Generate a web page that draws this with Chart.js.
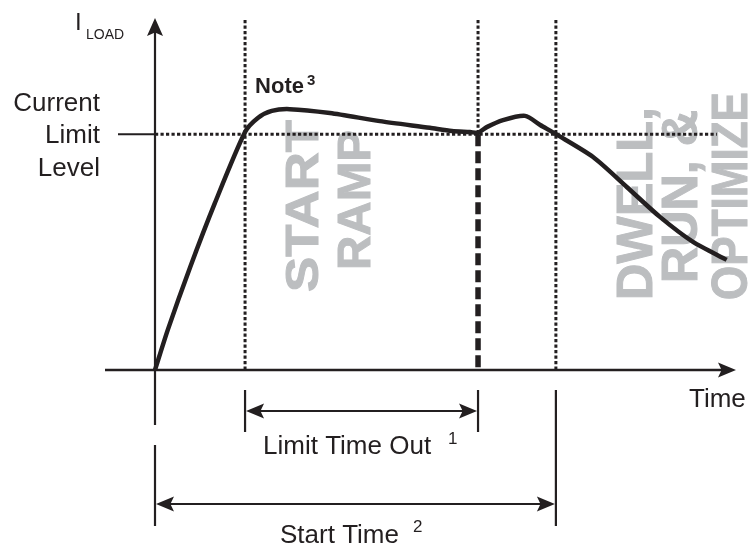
<!DOCTYPE html>
<html>
<head>
<meta charset="utf-8">
<script src="https://cdn.jsdelivr.net/npm/chart.js@4.4.1/dist/chart.umd.min.js"></script>
<style>
html,body{margin:0;padding:0;background:#fff;}
canvas{display:block;}
</style>
</head>
<body>
<canvas id="c" width="749" height="547"></canvas>
<script>
// Load current curve (time units, current units)
const curveTime    = [0, 2.2, 6.0, 10.3, 15.5, 17.7, 20.1, 23.2, 30.1, 38.7, 47.3, 51.1, 54.2, 55.6, 57.1, 59.9, 63.7, 66.3, 69.0, 75.4, 81.2, 86.9, 92.6, 98.4];
const curveCurrent = [0, 11.4, 29.0, 47.4, 67.6, 71.6, 73.6, 74.1, 73.0, 70.7, 68.8, 67.9, 67.6, 67.4, 69.0, 71.0, 72.2, 69.6, 67.0, 60.5, 52.0, 43.5, 36.4, 31.3];
// Event markers on the time axis
const eventNames = ["Start", "Current Limit Reached", "Limit Time Out", "Start Time"];
const eventTimes = [0, 15.5, 55.6, 69.0];
const currentLimitLevel = [67];
const axisLabels = ["Time", "I", "LOAD"];
const levelLabel = ["Current", "Limit", "Level"];
const phaseLabels1 = ["START", "RAMP"];
const phaseLabels2 = ["DWELL,", "RUN, &", "OPTIMIZE"];

const INK = "#231f20";
const GRAY = "#bcbec0";
const FONT = "'Liberation Sans', Arial, Helvetica, sans-serif";

const points = curveTime.map((t, i) => ({x: t, y: curveCurrent[i]}));

function seg(ctx, x1, y1, x2, y2, w, dash, cap) {
  ctx.save();
  ctx.beginPath();
  ctx.lineWidth = w;
  ctx.strokeStyle = INK;
  ctx.lineCap = cap || "butt";
  ctx.setLineDash(dash || []);
  ctx.moveTo(x1, y1);
  ctx.lineTo(x2, y2);
  ctx.stroke();
  ctx.restore();
}
function head(ctx, tx, ty, dir, len, half) {
  ctx.save();
  ctx.fillStyle = INK;
  ctx.beginPath();
  ctx.moveTo(tx, ty);
  if (dir === "up") { ctx.lineTo(tx - half, ty + len); ctx.lineTo(tx, ty + len * 0.8); ctx.lineTo(tx + half, ty + len); }
  if (dir === "right") { ctx.lineTo(tx - len, ty - half); ctx.lineTo(tx - len * 0.8, ty); ctx.lineTo(tx - len, ty + half); }
  if (dir === "left") { ctx.lineTo(tx + len, ty - half); ctx.lineTo(tx + len * 0.8, ty); ctx.lineTo(tx + len, ty + half); }
  ctx.closePath();
  ctx.fill();
  ctx.restore();
}
function txt(ctx, s, x, y, size, weight, align, color) {
  ctx.save();
  ctx.font = (weight || "normal") + " " + size + "px " + FONT;
  ctx.fillStyle = color || INK;
  ctx.textAlign = align || "left";
  ctx.textBaseline = "alphabetic";
  ctx.fillText(s, x, y);
  ctx.restore();
}
// rotated (reading upward) text, baseline at x, from yStart (bottom) up to yEnd
function vtxt(ctx, s, baseX, yStart, yEnd, size) {
  ctx.save();
  ctx.font = "bold " + size + "px " + FONT;
  const w = ctx.measureText(s).width;
  const sx = (yStart - yEnd) / w;
  ctx.translate(baseX, yStart);
  ctx.rotate(-Math.PI / 2);
  ctx.scale(sx, 1);
  ctx.fillStyle = GRAY;
  ctx.strokeStyle = GRAY;
  ctx.lineWidth = 1;
  ctx.lineJoin = "miter";
  ctx.textBaseline = "alphabetic";
  ctx.fillText(s, 0, 0);
  ctx.strokeText(s, 0, 0);
  ctx.restore();
}

const diagram = {
  id: "diagram",
  beforeDatasetsDraw(chart) {
    const ctx = chart.ctx;
    const xs = chart.scales.x, ys = chart.scales.y;
    const X = v => xs.getPixelForValue(v), Y = v => ys.getPixelForValue(v);
    const y0 = Y(0);
    const lim = Y(currentLimitLevel[0]);
    // gray phase labels
    vtxt(ctx, phaseLabels1[0], X(eventTimes[1]) + 73, y0 - 78, y0 - 250, 46);
    vtxt(ctx, phaseLabels1[1], X(eventTimes[1]) + 125, y0 - 100, y0 - 240, 46);
    vtxt(ctx, phaseLabels2[0], X(eventTimes[3]) + 96, y0 - 70, y0 - 263, 50);
    vtxt(ctx, phaseLabels2[1], X(eventTimes[3]) + 141, y0 - 87, y0 - 260, 50);
    vtxt(ctx, phaseLabels2[2], X(eventTimes[3]) + 191, y0 - 70, y0 - 278, 50);

    // dotted current-limit level
    const dot = [3.2, 2.3];
    seg(ctx, X(0), lim, X(96.7), lim, 3, dot);
    seg(ctx, X(0) - 37, lim, X(0), lim, 2);
    // dotted event verticals
    seg(ctx, X(eventTimes[1]), Y(99.4), X(eventTimes[1]), y0, 3, dot);
    seg(ctx, X(eventTimes[3]), Y(99.4), X(eventTimes[3]), y0, 3, dot);
    seg(ctx, X(eventTimes[2]), Y(99.4), X(eventTimes[2]), lim, 3, dot);
    seg(ctx, X(eventTimes[2]), lim, X(eventTimes[2]), y0, 5.5, [12, 5]);

    // axes
    seg(ctx, X(0), Y(100) + 14, X(0), y0 + 55, 2.2);
    seg(ctx, X(0), y0 + 75, X(0), y0 + 156, 2.2);
    head(ctx, X(0), Y(100), "up", 18, 8);
    seg(ctx, X(0) - 50, y0, X(100) - 14, y0, 2.5);
    head(ctx, X(100), y0, "right", 18, 7.5);

    // dimension ticks
    seg(ctx, X(eventTimes[1]), y0 + 20, X(eventTimes[1]), y0 + 62, 2.2);
    seg(ctx, X(eventTimes[2]), y0 + 20, X(eventTimes[2]), y0 + 62, 2.2);
    seg(ctx, X(eventTimes[3]), y0 + 20, X(eventTimes[3]), y0 + 156, 2.2);
    // dimension arrows
    const a1 = y0 + 41, a2 = y0 + 134;
    seg(ctx, X(eventTimes[1]) + 10, a1, X(eventTimes[2]) - 10, a1, 2.2);
    head(ctx, X(eventTimes[1]) + 1, a1, "left", 18, 7.5);
    head(ctx, X(eventTimes[2]) - 1, a1, "right", 18, 7.5);
    seg(ctx, X(0) + 10, a2, X(eventTimes[3]) - 10, a2, 2.2);
    head(ctx, X(0) + 1, a2, "left", 18, 7.5);
    head(ctx, X(eventTimes[3]) - 1, a2, "right", 18, 7.5);

    // texts
    txt(ctx, axisLabels[0], X(100) - 47, y0 + 37, 26);
    txt(ctx, axisLabels[1], X(0) - 80, Y(100) + 12, 24);
    txt(ctx, axisLabels[2], X(0) - 69, Y(100) + 21, 14);
    txt(ctx, levelLabel[0], X(0) - 55, lim - 23, 26, "normal", "right");
    txt(ctx, levelLabel[1], X(0) - 55, lim + 9, 26, "normal", "right");
    txt(ctx, levelLabel[2], X(0) - 55, lim + 42, 26, "normal", "right");
    txt(ctx, "Note", X(eventTimes[1]) + 10, 93, 22, "bold");
    txt(ctx, "3", X(eventTimes[1]) + 62, 85, 15, "bold");
    txt(ctx, "Limit Time Out", X(eventTimes[1]) + 18, y0 + 84, 26);
    txt(ctx, "1", X(eventTimes[1]) + 203, y0 + 74, 17);
    txt(ctx, "Start Time", X(0) + 125, y0 + 173, 26);
    txt(ctx, "2", X(0) + 258, y0 + 162, 17);
  }
};

new Chart(document.getElementById("c"), {
  type: "line",
  data: {
    datasets: [{
      data: points,
      borderColor: INK,
      borderWidth: 4.5,
      pointRadius: 0,
      tension: 0.25,
      fill: false,
      clip: false
    }]
  },
  options: {
    responsive: false,
    devicePixelRatio: 1,
    animation: false,
    layout: { padding: { left: 155, right: 13, top: 18, bottom: 177 } },
    plugins: { legend: { display: false }, tooltip: { enabled: false } },
    scales: {
      x: { type: "linear", min: 0, max: 100, display: false },
      y: { type: "linear", min: 0, max: 100, display: false }
    }
  },
  plugins: [diagram]
});
</script>
</body>
</html>
